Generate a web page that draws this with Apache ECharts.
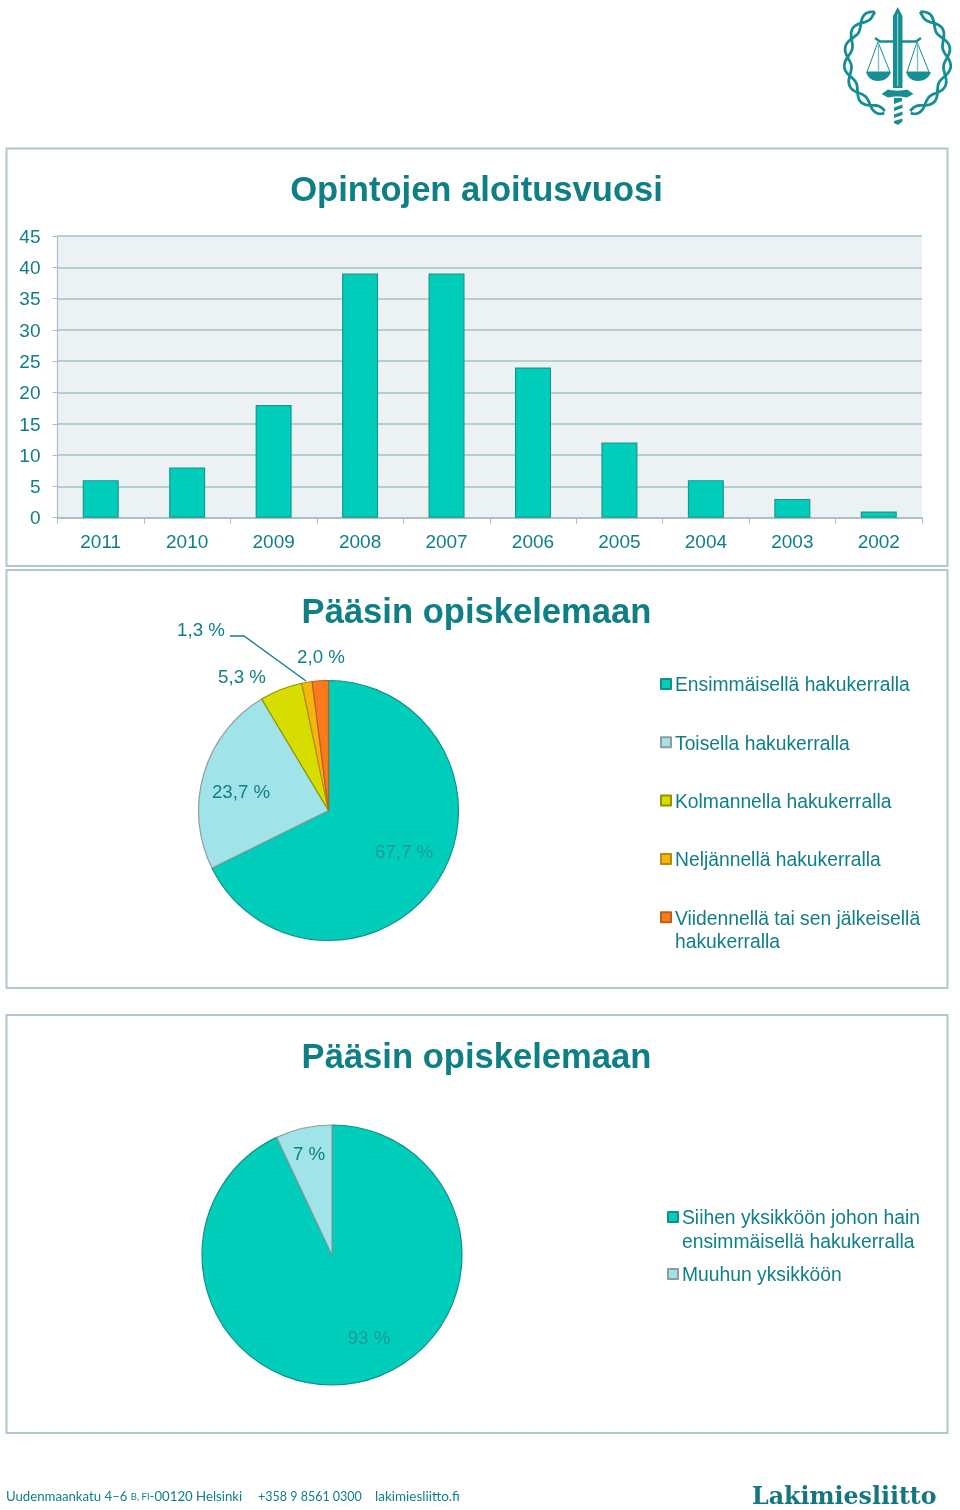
<!DOCTYPE html>
<html><head><meta charset="utf-8">
<style>html,body{margin:0;padding:0;background:#fff}#c{width:960px;height:1510px}</style>
<script src="https://cdn.jsdelivr.net/npm/echarts@6/dist/echarts.min.js"></script>
</head><body><div id="c"></div>
<script>
const years = ['2011','2010','2009','2008','2007','2006','2005','2004','2003','2002'];
const yearCounts = [6,8,18,39,39,24,12,6,3,1];
const attemptNames = ['Ensimmäisellä hakukerralla','Toisella hakukerralla','Kolmannella hakukerralla','Neljännellä hakukerralla','Viidennellä tai sen jälkeisellä\nhakukerralla'];
const attemptValues = [67.7,23.7,5.3,1.3,2.0];
const unitNames = ['Siihen yksikköön johon hain\nensimmäisellä hakukerralla','Muuhun yksikköön'];
const unitValues = [93,7];

const TEAL='#0f7f86', FONT='"Liberation Sans",Arial,sans-serif', LOGO='#168f93';
const pieColors=['#00cebb','#a0e3e9','#d7dd00','#f4b60c','#fb7a1c'];
const pieBorders=['#128f88','#8d9da0','#8f9400','#b98a10','#b8601a'];
const fmt=v=>String(v.toFixed(1)).replace('.',',')+' %';
const fmt0=v=>v+' %';
// Legend swatch: square sitting at the top of a slightly taller box
const SWATCH='path://M0 0H10V10H0ZM0 14';

const frame=(y,h)=>({type:'rect',shape:{x:6.5,y,width:941,height:h},style:{fill:'#fff',stroke:'#b0c8cb',lineWidth:2},z:-10});
const txt=(x,y,text,fontSize,extra)=>({type:'text',x,y,z:5,style:Object.assign({text,fontSize,fontFamily:FONT,fill:TEAL,verticalAlign:'middle'},extra||{})});

const pos1=[[404,853],[241,793],[242,678],[201,631],[321,658]];
const pos2=[[369,1339],[309,1155]];
const labelPos=(arr)=>p=>({x:arr[p.dataIndex][0],y:arr[p.dataIndex][1],align:'center',verticalAlign:'middle'});
function pieData(names,values,f){
  return values.map((v,i)=>({
    name:names[i],value:v,
    itemStyle:{color:pieColors[i],borderColor:pieBorders[i],borderWidth:1.2},
    label:{show:true,position:'outside',formatter:f(v),fontSize:18.7,fontFamily:FONT,color:(i===0)?'#1b9a9c':TEAL},
    labelLine:{show:false}
  }));
}
// Emblem laurel: a twisted pair of strands along an open ellipse
function braid(side,phase){
  const pts=[];
  for(let t=27;t<=165;t+=2){
    const a=t*Math.PI/180, off=3.6*Math.sin((t-27)*Math.PI/180*9+phase);
    const rx=50+off, ry=54+off;
    pts.push((897.5+side*rx*Math.sin(a)).toFixed(1)+' '+(60-ry*Math.cos(a)).toFixed(1));
  }
  return 'M'+pts.join('L');
}
const S={stroke:LOGO,lineWidth:2.8,fill:null,lineJoin:'round'};
const logoPaths={
  blade:['M897.7 7L902.5 16V88H893V16Z',{fill:LOGO}],
  fuller:['M897.7 14V86',{stroke:'#a8dcdc',lineWidth:1,fill:null}],
  guard:['M881.5 94L888 89.5C893 91 902 91 907 89.5L913.5 94L907 97.5C902 96 893 96 888 97.5Z',{fill:LOGO}],
  hilt:['M894 98H902V101L894 104V107.5L902.5 104.5V108L894 111V114.5L902.5 111.5V115L894 118V121L902.5 118.5V121.5L898 125L894 123Z',{fill:LOGO}],
  beam:['M875 38L880 41.5H895M900 41.5H916L921 38',{stroke:LOGO,lineWidth:2.4,fill:null}],
  cords:['M878 42L867 72H890ZM917 42L907 72H929Z',{stroke:LOGO,lineWidth:1,fill:null}],
  rods:['M878.5 42V72M917.5 42V72',{stroke:'#7cc2c4',lineWidth:1.4,fill:null}],
  pans:['M866 72H891C889 78 884 81 878 81C872 81 868 78 866 72ZM906 72H931C929 78 924 81 918 81C912 81 908 78 906 72Z',{fill:LOGO}],
  l1:[braid(-1,0),S],
  l2:[braid(-1,Math.PI),S],
  r1:[braid(1,0),S],
  r2:[braid(1,Math.PI),S]
};
const logoEls=Object.keys(logoPaths).map(k=>{
  const name='logo_'+k;
  echarts.graphic.registerShape(name,echarts.graphic.extendPath(logoPaths[k][0],{}));
  return {type:name,z:5,style:logoPaths[k][1]};
});
const chart=echarts.init(document.getElementById('c'),null,{renderer:'canvas'});
chart.setOption({
  animation:false,
  backgroundColor:'#fff',
  grid:{left:57.5,top:236,width:864.5,height:281.7,show:true,backgroundColor:'#ecf2f3',borderWidth:0},
  xAxis:{type:'category',data:years,boundaryGap:true,
    axisLine:{show:true,lineStyle:{color:'#a4bfc3',width:1.5}},
    axisTick:{show:true,length:6,alignWithLabel:false,lineStyle:{color:'#a4bfc3',width:1}},
    axisLabel:{fontSize:19,fontFamily:FONT,color:TEAL,margin:16}},
  yAxis:{type:'value',min:0,max:45,interval:5,
    axisLine:{show:true,lineStyle:{color:'#a9c3c6',width:1.2}},
    axisTick:{show:true,length:5,lineStyle:{color:'#a4bfc3',width:1}},
    splitLine:{show:true,lineStyle:{color:'#a3c2c6',width:1.5}},
    axisLabel:{fontSize:19,fontFamily:FONT,color:TEAL,margin:17,verticalAlign:'top',lineHeight:3}},
  legend:[
    {orient:'vertical',left:660,top:675.5,padding:0,itemWidth:10,itemHeight:14,itemGap:37.3,
     icon:SWATCH,data:attemptNames,selectedMode:false,
     formatter:n=>n.split('\n')[0],
     textStyle:{fontSize:19.3,fontFamily:FONT,color:TEAL,padding:[0,0,0,-1],lineHeight:21}},
    {orient:'vertical',left:667,top:1208.5,padding:0,itemWidth:10,itemHeight:14,itemGap:36,
     icon:SWATCH,data:unitNames,selectedMode:false,
     formatter:n=>n.split('\n')[0],
     textStyle:{fontSize:19.3,fontFamily:FONT,color:TEAL,padding:[0,0,0,-1],lineHeight:21}}
  ],
  series:[
    {type:'bar',data:yearCounts,barWidth:36,
     itemStyle:{color:'#00cebb',borderColor:'#129a90',borderWidth:1.2}},
    {type:'pie',name:'Pääsin opiskelemaan 1',center:[328.5,810.5],radius:[0,130],startAngle:90,clockwise:true,
     data:pieData(attemptNames,attemptValues,fmt),
     labelLayout:labelPos(pos1),emphasis:{disabled:true}},
    {type:'pie',name:'Pääsin opiskelemaan 2',center:[332,1255],radius:[0,130],startAngle:90,clockwise:true,
     data:pieData(unitNames,unitValues,fmt0),
     labelLayout:labelPos(pos2),emphasis:{disabled:true}}
  ],
  graphic:[
    frame(148.5,417.5),frame(570,418),frame(1015,418),
    txt(476.5,191,'Opintojen aloitusvuosi',34.6,{fontWeight:'bold',align:'center'}),
    txt(476.5,613,'Pääsin opiskelemaan',34.6,{fontWeight:'bold',align:'center'}),
    txt(476.5,1058,'Pääsin opiskelemaan',34.6,{fontWeight:'bold',align:'center'}),
    txt(675,943,attemptNames[4].split('\n')[1],19.3),
    txt(682,1243,unitNames[0].split('\n')[1],19.3),
    {type:'polyline',z:6,shape:{points:[[230,636],[244,636],[306,681]]},style:{stroke:TEAL,lineWidth:1.3,fill:null}},
    {type:'text',x:6,y:1497,z:5,style:{text:'{a|Uudenmaankatu 4–6 }{s|B, FI}{a|-00120 Helsinki}',rich:{a:{fontSize:13.2,fontFamily:'Lato',fill:TEAL,color:TEAL},s:{fontSize:9.5,fontFamily:'Lato',fill:TEAL,color:TEAL}},verticalAlign:'middle',fill:TEAL}},
    {type:'text',x:258,y:1497,z:5,style:{text:'+358 9 8561 0300',fontSize:12.5,fontFamily:'Lato',fill:TEAL,verticalAlign:'middle'}},
    {type:'text',x:375,y:1497,z:5,style:{text:'lakimiesliitto.fi',fontSize:13.5,fontFamily:'Lato',fill:TEAL,verticalAlign:'middle'}},
    {type:'text',x:752,y:1498,z:5,style:{text:'Lakimiesliitto',fontSize:23.7,fontWeight:'bold',fontFamily:'"DejaVu Serif",serif',fill:'#14767f',verticalAlign:'middle'}},
    {type:'group',z:5,children:logoEls}
  ]
});
</script></body></html>
